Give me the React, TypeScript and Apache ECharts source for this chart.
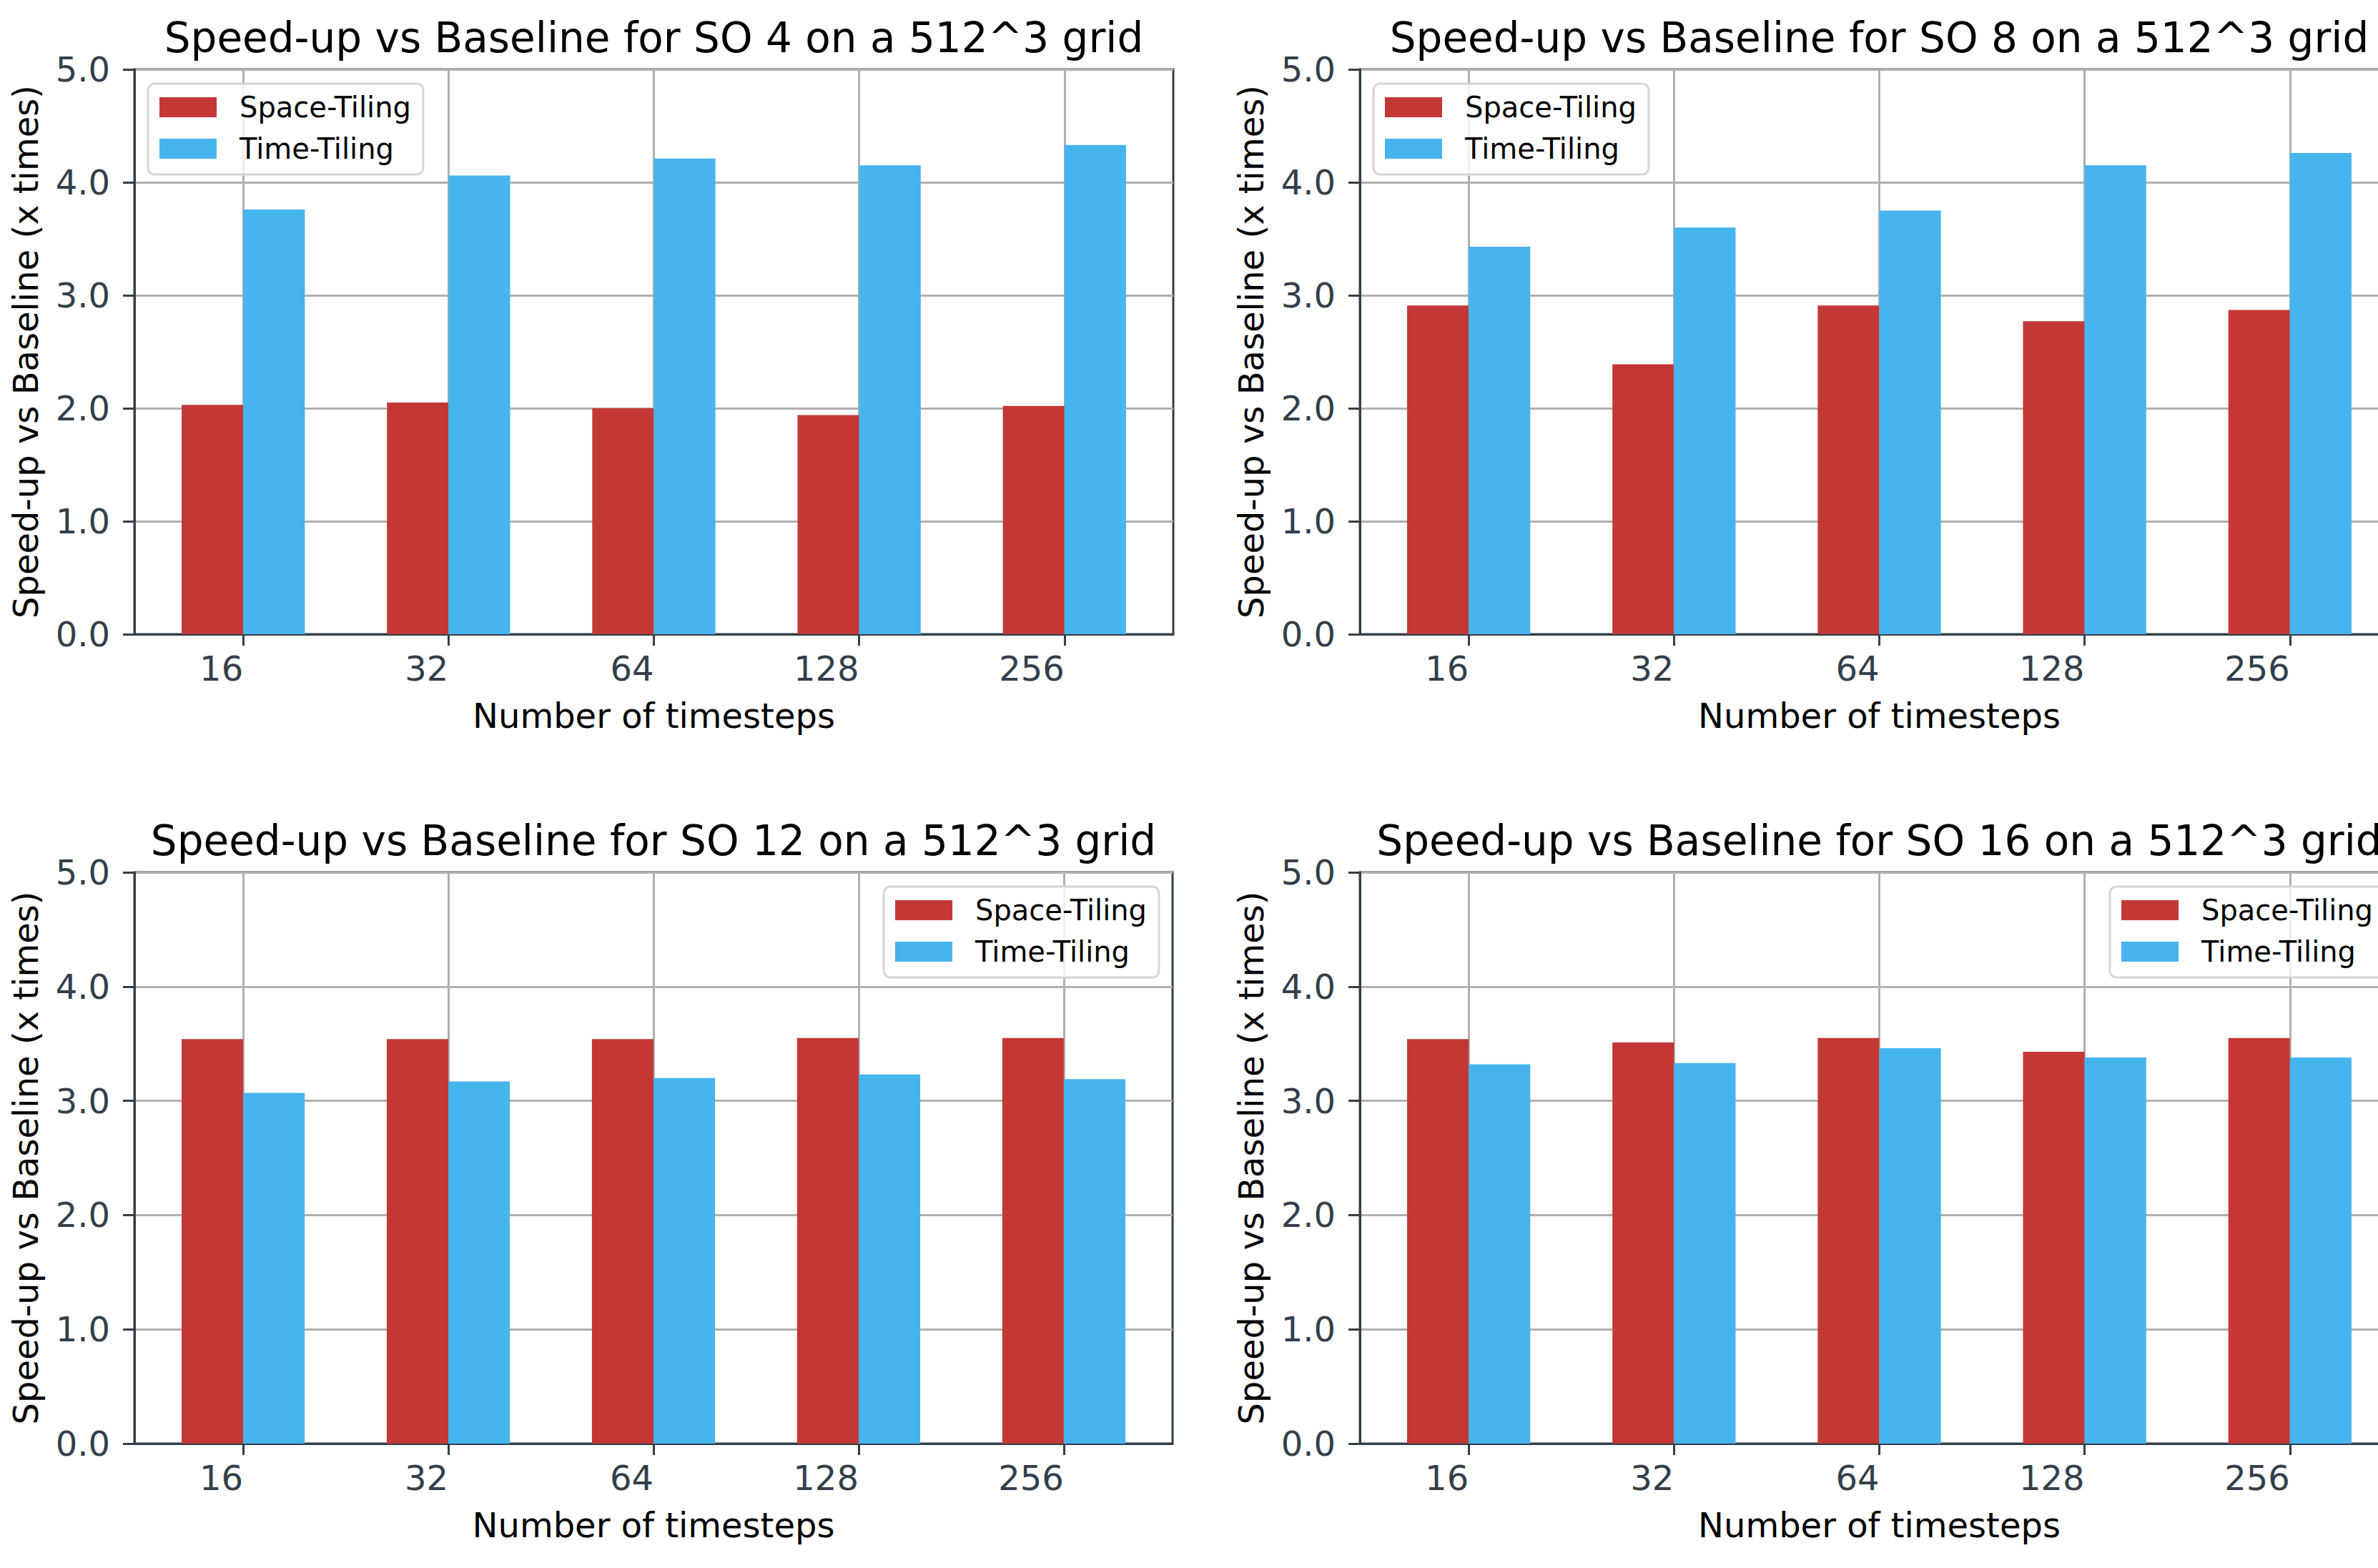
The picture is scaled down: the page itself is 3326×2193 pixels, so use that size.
import React, { useEffect, useRef } from "react";
import * as echarts from "echarts";

const CATEGORIES = ["16", "32", "64", "128", "256"];
const SERIES_NAMES = ["Space-Tiling", "Time-Tiling"];
const STENCIL_ORDERS = ["4", "8", "12", "16"];

const SO4_SPACE = [2.03, 2.05, 2.0, 1.94, 2.02];
const SO4_TIME = [3.76, 4.06, 4.21, 4.15, 4.33];
const SO8_SPACE = [2.91, 2.39, 2.91, 2.77, 2.87];
const SO8_TIME = [3.43, 3.6, 3.75, 4.15, 4.26];
const SO12_SPACE = [3.54, 3.54, 3.54, 3.55, 3.55];
const SO12_TIME = [3.07, 3.17, 3.2, 3.23, 3.19];
const SO16_SPACE = [3.54, 3.51, 3.55, 3.43, 3.55];
const SO16_TIME = [3.32, 3.33, 3.46, 3.38, 3.38];

const Y_MIN = 0;
const Y_MAX = 5;
const Y_STEP = 1;

const PANELS = [
  { so: STENCIL_ORDERS[0], space: SO4_SPACE, time: SO4_TIME },
  { so: STENCIL_ORDERS[1], space: SO8_SPACE, time: SO8_TIME },
  { so: STENCIL_ORDERS[2], space: SO12_SPACE, time: SO12_TIME },
  { so: STENCIL_ORDERS[3], space: SO16_SPACE, time: SO16_TIME },
];

const CHART_W = 3400;
const CHART_H = 2193;
const FONT = "DejaVu Sans";
const SPINE = "#333f4b";
const GRIDC = "#b0b0b0";
const RED = "#c33835";
const BLUE = "#46b5ed";

// layout (pixels)
const LAYOUT = [
  { left: 188, top: 97, width: 1453, height: 790, legend: "left" },
  { left: 1902, top: 97, width: 1453, height: 790, legend: "left" },
  { left: 188, top: 1220, width: 1452, height: 799, legend: "right" },
  { left: 1902, top: 1220, width: 1453, height: 799, legend: "right" },
];

export default function App() {
  const ref = useRef<HTMLDivElement>(null);

  useEffect(() => {
    if (!ref.current) return;
    const chart = echarts.init(ref.current, null, { renderer: "svg" });

    const grids: any[] = [];
    const xAxes: any[] = [];
    const yAxes: any[] = [];
    const series: any[] = [];
    const titles: any[] = [];
    const legends: any[] = [];
    const tickVals = CATEGORIES.map((_, i) => i);

    PANELS.forEach((p, g) => {
      const L = LAYOUT[g];
      grids.push({
        left: L.left,
        top: L.top,
        width: L.width,
        height: L.height,
        show: true,
        borderColor: SPINE,
        borderWidth: 3,
        backgroundColor: "transparent",
        containLabel: false,
      });
      xAxes.push({
        type: "value",
        gridIndex: g,
        min: -0.53,
        max: CATEGORIES.length - 1 + 0.53,
        axisLine: { show: true, onZero: false, lineStyle: { color: SPINE, width: 3 } },
        axisTick: {
          show: true,
          length: 16,
          customValues: tickVals,
          lineStyle: { color: SPINE, width: 3 },
        },
        axisLabel: {
          customValues: tickVals,
          formatter: (v: number) => {
            const r = Math.round(v);
            return Math.abs(v - r) < 1e-6 && CATEGORIES[r] !== undefined ? CATEGORIES[r] : "";
          },
          align: "right",
          fontSize: 48,
          fontFamily: FONT,
          color: SPINE,
          margin: 24,
        },
        splitLine: { show: true, lineStyle: { color: GRIDC, width: 3 } },
        name: "Number of timesteps",
        nameLocation: "middle",
        nameGap: 90,
        nameTextStyle: { fontSize: 48, fontFamily: FONT, color: "#000" },
      });
      yAxes.push({
        type: "value",
        gridIndex: g,
        min: Y_MIN,
        max: Y_MAX,
        interval: Y_STEP,
        axisLine: { show: true, onZero: false, lineStyle: { color: SPINE, width: 3 } },
        axisTick: { show: true, length: 16, lineStyle: { color: SPINE, width: 3 } },
        axisLabel: {
          formatter: (v: number) => v.toFixed(1),
          fontSize: 48,
          fontFamily: FONT,
          color: SPINE,
          margin: 34,
        },
        splitLine: { show: true, lineStyle: { color: GRIDC, width: 3 } },
        name: "Speed-up vs Baseline (x times)",
        nameLocation: "middle",
        nameGap: 128,
        nameTextStyle: { fontSize: 48, fontFamily: FONT, color: "#000" },
      });
      series.push({
        type: "bar",
        name: SERIES_NAMES[0],
        xAxisIndex: g,
        yAxisIndex: g,
        data: p.space.map((v, i) => [i, v]),
        barWidth: "30%",
        barGap: "0%",
        itemStyle: { color: RED },
      });
      series.push({
        type: "bar",
        name: SERIES_NAMES[1],
        xAxisIndex: g,
        yAxisIndex: g,
        data: p.time.map((v, i) => [i, v]),
        barWidth: "30%",
        barGap: "0%",
        itemStyle: { color: BLUE },
      });
      titles.push({
        text: `Speed-up vs Baseline for SO ${p.so} on a 512^3 grid`,
        left: L.left + L.width / 2,
        top: L.top - 73,
        textAlign: "center",
        padding: 0,
        textStyle: { fontSize: 58, fontWeight: "normal", color: "#000", fontFamily: FONT },
      });
      const lg: any = {
        data: SERIES_NAMES,
        orient: "vertical",
        top: L.top + 20,
        icon: "rect",
        itemWidth: 80,
        itemHeight: 28,
        itemGap: 18,
        padding: [13, 17, 16, 16],
        backgroundColor: "rgba(255,255,255,0.8)",
        borderColor: "#d6d6d6",
        borderWidth: 3,
        borderRadius: 9,
        selectedMode: false,
        textStyle: {
          fontSize: 40,
          fontFamily: FONT,
          color: "#000",
          padding: [0, 0, 0, 27],
        },
      };
      if (L.legend === "left") lg.left = L.left + 19;
      else lg.right = CHART_W - (L.left + L.width - 19);
      legends.push(lg);
    });

    chart.setOption({
      animation: false,
      backgroundColor: "#fff",
      title: titles,
      legend: legends,
      grid: grids,
      xAxis: xAxes,
      yAxis: yAxes,
      series,
    });

    return () => chart.dispose();
  }, []);

  return (
    <div
      style={{
        position: "fixed",
        left: 0,
        top: 0,
        width: 3326,
        height: 2193,
        overflow: "hidden",
        background: "#fff",
      }}
    >
      <div ref={ref} style={{ width: CHART_W, height: CHART_H }} />
    </div>
  );
}
